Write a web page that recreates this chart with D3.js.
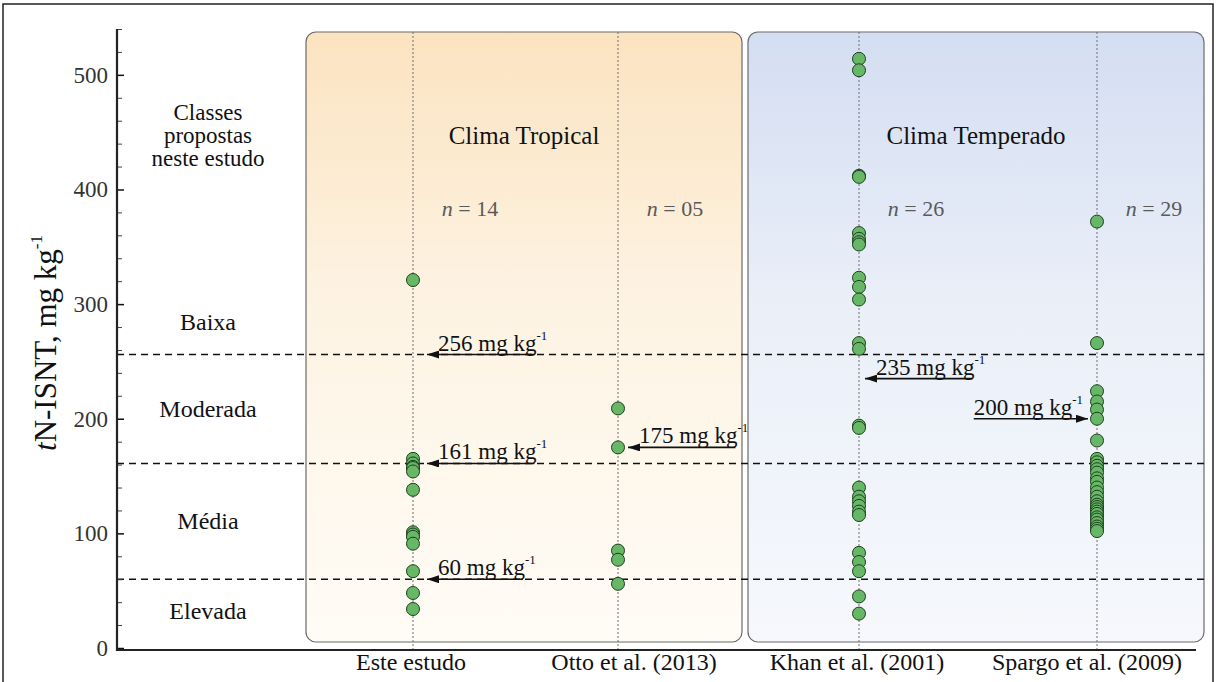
<!DOCTYPE html>
<html>
<head>
<meta charset="utf-8">
<script src="https://cdn.jsdelivr.net/npm/d3@7"></script>
<style>
  body { margin: 0; background: #fff; }
  svg { display: block; }
  text { font-family: "Liberation Serif", "Times New Roman", serif; }
</style>
</head>
<body>
<div id="chart"></div>
<script>
// data
var studies = ["Este estudo", "Otto et al. (2013)", "Khan et al. (2001)", "Spargo et al. (2009)"];
var esteEstudo = [321, 165, 161, 158, 157, 154, 138, 101, 99, 97, 91, 67, 48, 34];
var otto = [209, 175, 85, 77, 56];
var khan = [514, 504, 412, 411, 362, 357, 354, 352, 323, 315, 304, 266, 261, 194, 192, 140, 132, 128, 124, 119, 116, 83, 75, 67, 45, 30];
var spargo = [372, 266, 224, 215, 208, 200, 181, 165, 162, 159, 156, 153, 148, 145, 140, 136, 132, 128, 125, 123, 121, 119, 117, 114, 112, 109, 106, 104, 102];
var nCounts = ["14", "05", "26", "29"];

var cutoffs = [256, 161, 60];
var classNames = ["Baixa", "Moderada", "Média", "Elevada"];
var climates = ["Clima Tropical", "Clima Temperado"];

// reference values with arrows: value, study index, arrow direction
var refValues = [256, 161, 60, 175, 235, 200];
var refStudy = [0, 0, 0, 1, 2, 3];
var refDir = ["left", "left", "left", "left", "left", "right"];

var yTicks = [0, 100, 200, 300, 400, 500];

var width = 1217, height = 682;

var svg = d3.select("#chart").append("svg")
    .attr("width", width)
    .attr("height", height);

var y = d3.scaleLinear().domain([0, 540]).range([648, 29]);
var colX = d3.scaleOrdinal().domain(studies).range([413, 618, 859, 1097]);
var labelShift = [-2, 16, -2, -10];

// gradients for the two climate panels
var defs = svg.append("defs");
function grad(id, stops) {
    var g = defs.append("linearGradient").attr("id", id)
        .attr("x1", 0).attr("y1", 0).attr("x2", 0).attr("y2", 1);
    stops.forEach(function (s) {
        g.append("stop").attr("offset", s[0]).attr("stop-color", s[1]);
    });
}
grad("tropical", [[0, "#fbe3c0"], [0.45, "#fdf3e3"], [1, "#fffcf6"]]);
grad("temperate", [[0, "#d4def2"], [0.45, "#eaeff8"], [1, "#f6f8fc"]]);

defs.append("marker")
    .attr("id", "arrow")
    .attr("markerUnits", "userSpaceOnUse")
    .attr("viewBox", "0 0 12 8")
    .attr("refX", 12).attr("refY", 4)
    .attr("markerWidth", 13).attr("markerHeight", 8)
    .attr("orient", "auto")
  .append("path")
    .attr("d", "M0,0 L12,4 L0,8 z")
    .attr("fill", "#111");

// outer frame
svg.append("rect")
    .attr("x", 3).attr("y", 4).attr("width", 1210).attr("height", 700)
    .attr("fill", "none").attr("stroke", "#222").attr("stroke-width", 1.5);

// panels
svg.append("rect")
    .attr("x", 306).attr("y", 32).attr("width", 436).attr("height", 610)
    .attr("rx", 10).attr("ry", 10)
    .attr("fill", "url(#tropical)").attr("stroke", "#6b6b6b").attr("stroke-width", 1.2);
svg.append("rect")
    .attr("x", 748).attr("y", 32).attr("width", 456).attr("height", 610)
    .attr("rx", 10).attr("ry", 10)
    .attr("fill", "url(#temperate)").attr("stroke", "#6b6b6b").attr("stroke-width", 1.2);

// dotted column guides
svg.selectAll(".guide")
    .data(studies)
    .enter().append("line")
    .attr("class", "guide")
    .attr("x1", function (d) { return colX(d); })
    .attr("x2", function (d) { return colX(d); })
    .attr("y1", 32).attr("y2", 649)
    .attr("stroke", "#6f6f6f").attr("stroke-width", 1)
    .attr("stroke-dasharray", "2,2");

// climate titles
svg.append("text")
    .attr("x", 524).attr("y", 144)
    .attr("text-anchor", "middle").attr("font-size", 25).attr("fill", "#111")
    .text(climates[0]);
svg.append("text")
    .attr("x", 976).attr("y", 144)
    .attr("text-anchor", "middle").attr("font-size", 25).attr("fill", "#111")
    .text(climates[1]);

// n labels
var nText = svg.selectAll(".nlab")
    .data(studies)
    .enter().append("text")
    .attr("class", "nlab")
    .attr("x", function (d) { return colX(d) + 57; })
    .attr("y", 216)
    .attr("text-anchor", "middle")
    .attr("font-size", 22)
    .attr("fill", "#5a5a5a");
nText.append("tspan").attr("font-style", "italic").text("n");
nText.append("tspan").text(function (d, i) { return " = " + nCounts[i]; });

// class labels on the left
var classLines = ["Classes", "propostas", "neste estudo"];
svg.append("text")
    .attr("x", 208).attr("y", 120)
    .attr("text-anchor", "middle").attr("font-size", 23).attr("fill", "#111")
    .selectAll("tspan")
    .data(classLines)
    .enter().append("tspan")
    .attr("x", 208)
    .attr("dy", function (d, i) { return i === 0 ? 0 : 23; })
    .text(function (d) { return d; });

var classMid = [cutoffs[0] + 28, (cutoffs[0] + cutoffs[1]) / 2, (cutoffs[1] + cutoffs[2]) / 2, cutoffs[2] / 2 + 2];
svg.selectAll(".cls")
    .data(classNames)
    .enter().append("text")
    .attr("class", "cls")
    .attr("x", 208)
    .attr("y", function (d, i) { return y(classMid[i]) + 8; })
    .attr("text-anchor", "middle")
    .attr("font-size", 24)
    .attr("fill", "#111")
    .text(function (d) { return d; });

// dashed class limits
svg.selectAll(".cut")
    .data(cutoffs)
    .enter().append("line")
    .attr("class", "cut")
    .attr("x1", 117).attr("x2", 1204)
    .attr("y1", function (d) { return y(d); })
    .attr("y2", function (d) { return y(d); })
    .attr("stroke", "#111").attr("stroke-width", 1.4)
    .attr("stroke-dasharray", "7,5");

// reference arrows
refValues.forEach(function (v, i) {
    var cx = colX(studies[refStudy[i]]);
    var yy = y(v);
    var t = svg.append("text").attr("font-size", 23).attr("fill", "#111").attr("y", yy - 4);
    var main = t.append("tspan").text(v + " mg kg");
    t.append("tspan").attr("font-size", 13).attr("dy", -11).text("-1");
    var mainW = main.node().getComputedTextLength();
    var totalW = t.node().getComputedTextLength();
    var x1, x2;
    if (refDir[i] === "left") {
        var tip = cx + (refStudy[i] === 2 ? 6 : (refStudy[i] === 1 ? 10 : 14));
        t.attr("x", tip + 11);
        x1 = tip + 11 + mainW - 2;
        x2 = tip;
    } else {
        var tipR = cx - 9;
        var start = tipR - 5 - totalW;
        t.attr("x", start);
        x1 = start;
        x2 = tipR;
    }
    svg.append("line")
        .attr("x1", x1).attr("x2", x2)
        .attr("y1", yy).attr("y2", yy)
        .attr("stroke", "#111").attr("stroke-width", 1.6)
        .attr("marker-end", "url(#arrow)");
});

// points
var series = [esteEstudo, otto, khan, spargo];
series.forEach(function (vals, i) {
    svg.append("g").selectAll("circle")
        .data(vals)
        .enter().append("circle")
        .attr("cx", colX(studies[i]))
        .attr("cy", function (d) { return y(d); })
        .attr("r", 6.5)
        .attr("fill", "#66b866")
        .attr("stroke", "#1f3f1f")
        .attr("stroke-width", 1);
});

// y axis
var gy = svg.append("g").attr("transform", "translate(117,0)");
gy.call(d3.axisLeft(y).tickValues(yTicks).tickSize(0).tickPadding(9))
    .call(function (g) { g.select(".domain").remove(); });
gy.selectAll("text")
    .attr("font-family", "Liberation Serif, Times New Roman, serif")
    .attr("font-size", 23)
    .attr("fill", "#333");

var gMinor = svg.append("g").attr("transform", "translate(117,0)");
gMinor.call(d3.axisRight(y).tickValues(d3.range(0, 541, 20)).tickSize(5).tickFormat(""))
    .call(function (g) { g.select(".domain").remove(); });
gMinor.selectAll("line").attr("stroke", "#444").attr("stroke-width", 1);
gMinor.selectAll(".tick line")
    .filter(function (d) { return d % 100 === 0; })
    .attr("x2", 7).attr("stroke", "#111").attr("stroke-width", 1.5);

svg.append("line")
    .attr("x1", 117).attr("x2", 117)
    .attr("y1", 29).attr("y2", 651)
    .attr("stroke", "#222").attr("stroke-width", 2.2);
svg.append("line")
    .attr("x1", 116).attr("x2", 1196)
    .attr("y1", 650).attr("y2", 650)
    .attr("stroke", "#222").attr("stroke-width", 2);

// x labels
svg.selectAll(".xlab")
    .data(studies)
    .enter().append("text")
    .attr("class", "xlab")
    .attr("x", function (d, i) { return colX(d) + labelShift[i]; })
    .attr("y", 670)
    .attr("text-anchor", "middle")
    .attr("font-size", 24)
    .attr("fill", "#111")
    .text(function (d) { return d; });

// y title
var yt = svg.append("text")
    .attr("transform", "translate(56,343) rotate(-90)")
    .attr("text-anchor", "middle")
    .attr("font-size", 31)
    .attr("fill", "#111");
yt.append("tspan").attr("font-style", "italic").text("t");
yt.append("tspan").text("N-ISNT, mg kg");
yt.append("tspan").attr("font-size", 17).attr("dy", -14).text("-1");
</script>
</body>
</html>
